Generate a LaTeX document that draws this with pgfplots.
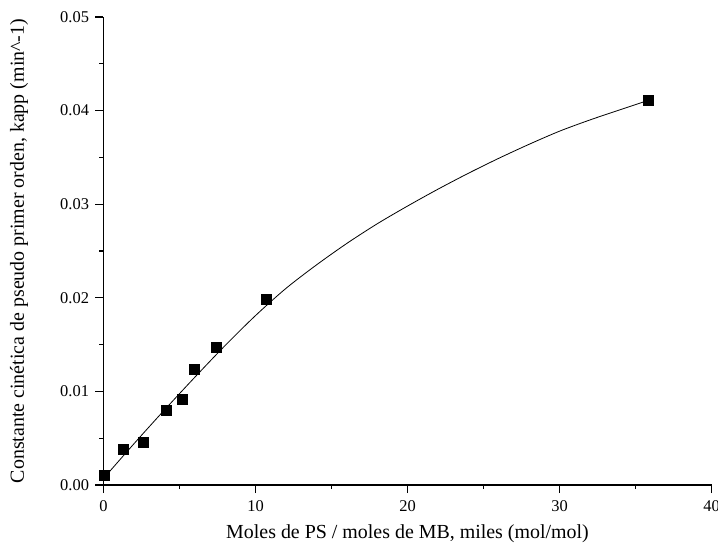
\documentclass[border=0pt]{standalone}
\usepackage{fontspec}
\setmainfont{Liberation Serif}
\usepackage{pgfplots}
\pgfplotsset{compat=1.18}
\begin{document}
\begin{tikzpicture}
\begin{axis}[
  at={(0,0)}, anchor=south west,
  scale only axis, width=608bp, height=468bp,
  xmin=0, xmax=40, ymin=0, ymax=0.05,
  axis x line*=bottom, axis y line*=left,
  axis line style={line width=1.6bp, -},
  xtick={0,10,20,30,40},
  ytick={0,0.01,0.02,0.03,0.04,0.05},
  minor x tick num=1, minor y tick num=1,
  tick align=outside,
  major tick length=8bp, minor tick length=4bp,
  tick style={line width=1.2bp, black},
  scaled y ticks=false,
  yticklabel style={/pgf/number format/fixed, /pgf/number format/fixed zerofill, /pgf/number format/precision=2, xshift=-3bp},
  /pgf/number format/assume math mode=true,
  tick label style={font=\fontsize{16.5}{19}\selectfont},
  label style={font=\fontsize{20}{24}\selectfont},
  xticklabel style={yshift=-4bp},
  xlabel={Moles de PS / moles de MB, miles (mol/mol)},
  ylabel={Constante cinética de pseudo primer orden, kapp (min\textasciicircum-1)},
  xlabel style={at={(axis description cs:0.5,-0.105)}, anchor=center},
  ylabel style={at={(axis description cs:-0.139,0.5)}, anchor=center},
  clip=false,
]
\addplot[black, line width=0.8bp, smooth] coordinates {
  (0,0.0007) (2,0.0044) (4,0.0080) (6,0.0115) (8,0.0149) (10,0.0181)
  (12,0.0210) (14,0.0235) (16,0.0258) (18,0.0279) (20,0.0298) (22,0.0316)
  (24,0.0333) (26,0.0349) (28,0.0364) (30,0.0378) (32,0.0390) (34,0.0401)
  (35.85,0.0411)
};
\addplot[only marks, mark=square*, mark size=5bp, black] coordinates {
  (0.05,0.0010) (1.27,0.00383) (2.62,0.00458) (4.13,0.00804) (5.17,0.00914)
  (5.98,0.0124) (7.39,0.0147) (10.70,0.0198) (35.85,0.0411)
};
\end{axis}
\pgfresetboundingbox
\path[use as bounding box] (-103.5bp,-73bp) rectangle (614.5bp,485bp);
\end{tikzpicture}
\end{document}
